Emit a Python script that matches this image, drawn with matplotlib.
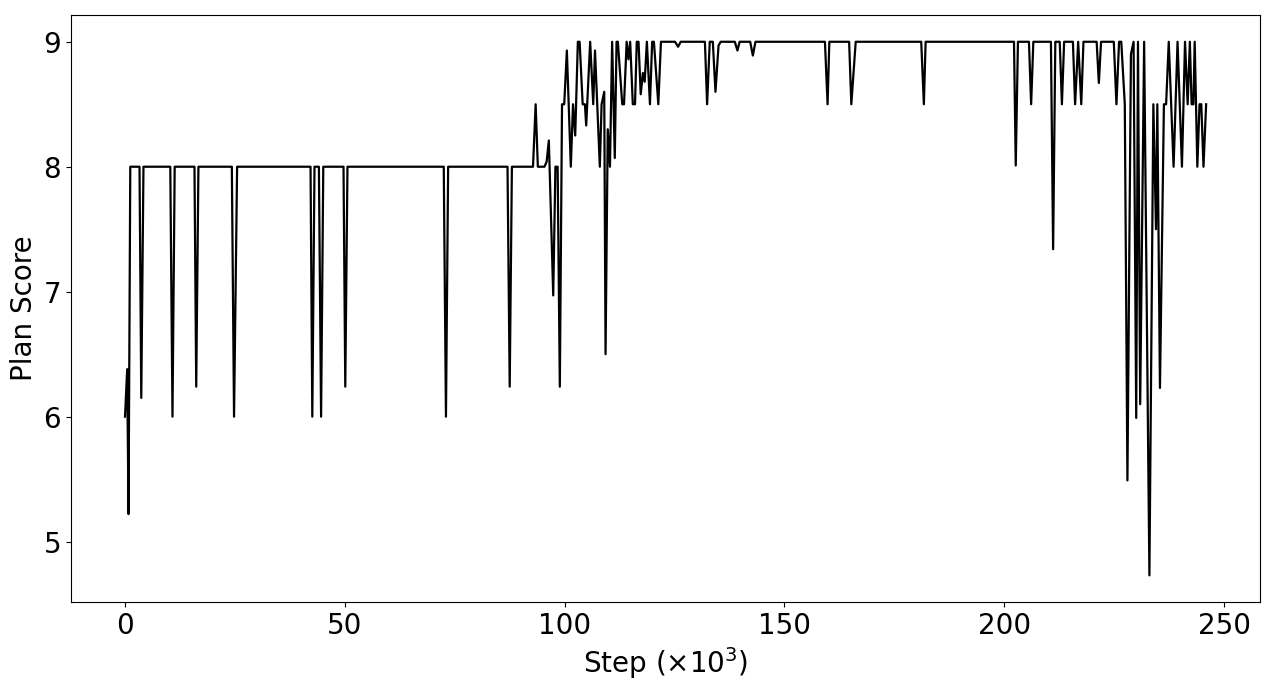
import matplotlib
matplotlib.use("Agg")
import matplotlib.pyplot as plt

steps = [0, 0.5, 0.8, 1.2, 3.3, 3.7, 4.2, 10.3, 10.8, 11.3, 15.8, 16.2, 16.7,
         24.3, 24.8, 25.5, 42.2, 42.6, 43.1, 44.1, 44.6, 45.1, 49.7, 50.1, 50.6,
         72.5, 73.0, 73.5, 87.0, 87.5, 88.0, 92.8, 93.4, 93.9, 95.4, 95.9, 96.4,
         97.4, 97.9, 98.4, 98.9, 99.4, 99.9, 100.5, 101.4, 101.9, 102.4, 103.0,
         103.4, 104.1, 104.6, 104.9, 105.8, 106.5, 106.9, 108.0, 108.4, 109.0,
         109.3, 109.8, 110.3, 110.8, 111.4, 111.8, 112.1, 113.1, 113.5, 114.1,
         114.5, 114.9, 115.5, 116.0, 116.4, 116.8, 117.3, 117.8, 118.2, 118.7,
         119.4, 119.9, 120.3, 121.3, 121.9, 125.1, 125.8, 126.4, 131.9, 132.4,
         133.0, 133.7, 134.3, 135.0, 135.5, 138.7, 139.3, 139.8, 142.2, 142.8,
         143.4, 159.2, 159.8, 160.2, 164.7, 165.2, 166.2, 181.1, 181.7, 182.1,
         202.2, 202.6, 203.1, 205.6, 206.1, 206.6, 210.6, 211.1, 211.6, 212.6,
         213.1, 213.6, 215.6, 216.1, 216.8, 217.5, 218.0, 221.0, 221.5, 222.0,
         224.9, 225.5, 226.1, 226.6, 227.4, 228.0, 228.8, 229.4, 230.0, 230.4,
         230.9, 231.8, 233.0, 233.9, 234.5, 234.8, 235.4, 236.3, 236.8, 237.4,
         238.5, 239.4, 240.4, 241.1, 241.7, 242.2, 242.6, 243.0, 243.3, 243.9,
         244.4, 244.8, 245.3, 245.9]
scores = [6.0, 6.38, 5.22, 8.0, 8.0, 6.15, 8.0, 8.0, 6.0, 8.0, 8.0, 6.24, 8.0,
          8.0, 6.0, 8.0, 8.0, 6.0, 8.0, 8.0, 6.0, 8.0, 8.0, 6.24, 8.0,
          8.0, 6.0, 8.0, 8.0, 6.24, 8.0, 8.0, 8.5, 8.0, 8.0, 8.04, 8.21,
          6.97, 8.0, 8.0, 6.24, 8.5, 8.5, 8.93, 8.0, 8.5, 8.25, 9.0,
          9.0, 8.5, 8.5, 8.33, 9.0, 8.5, 8.93, 8.0, 8.5, 8.6,
          6.5, 8.3, 8.0, 9.0, 8.07, 9.0, 9.0, 8.5, 8.5, 9.0,
          8.86, 9.0, 8.5, 8.5, 9.0, 9.0, 8.58, 8.75, 8.68, 9.0,
          8.5, 9.0, 9.0, 8.5, 9.0, 9.0, 8.96, 9.0, 9.0, 8.5,
          9.0, 9.0, 8.6, 8.97, 9.0, 9.0, 8.93, 9.0, 9.0, 8.89,
          9.0, 9.0, 8.5, 9.0, 9.0, 8.5, 9.0, 9.0, 8.5, 9.0,
          9.0, 8.01, 9.0, 9.0, 8.5, 9.0, 9.0, 7.34, 9.0, 9.0,
          8.5, 9.0, 9.0, 8.5, 9.0, 8.5, 9.0, 9.0, 8.67, 9.0,
          9.0, 8.5, 9.0, 9.0, 8.5, 5.49, 8.9, 9.0, 5.99, 9.0,
          6.1, 9.0, 4.73, 8.5, 7.5, 8.5, 6.23, 8.5, 8.5, 9.0,
          8.0, 9.0, 8.0, 9.0, 8.5, 9.0, 8.5, 8.5, 9.0, 8.0,
          8.5, 8.5, 8.0, 8.5]

fig = plt.figure(figsize=(12.76, 6.86), dpi=100)
ax = fig.add_axes([0.0556, 0.1224, 0.932, 0.8556])
ax.plot(steps, scores, color='black', linewidth=1.6)

ax.set_xlabel(r'Step ($\times 10^3$)', fontsize=20)
ax.set_ylabel('Plan Score', fontsize=20)
ax.tick_params(labelsize=20)
ax.set_xticks([0, 50, 100, 150, 200, 250])
ax.set_yticks([5, 6, 7, 8, 9])

fig.savefig('out.png', dpi=100)
